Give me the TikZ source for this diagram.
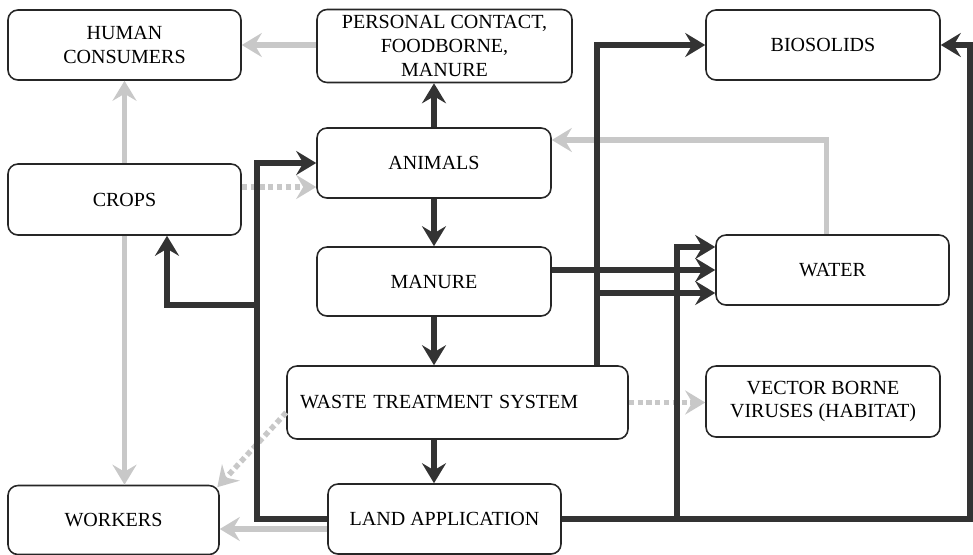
\documentclass[tikz,border=0pt]{standalone}
\usepackage{fontspec}
\setmainfont{Liberation Serif}
\usepackage{xcolor}
\usetikzlibrary{arrows.meta}
\usetikzlibrary{positioning}
\definecolor{darkline}{HTML}{333333}
\definecolor{liteline}{HTML}{C8C8C8}
\tikzset{
  MyBox/.style={
    rectangle, rounded corners=2mm,
    line width=0.9pt, draw=black!85, fill=white,
    minimum width=4.66cm, minimum height=1.4cm,
    align=center, font=\fontsize{11.4}{13.6}\selectfont,
  },
  MyDark/.style={
    -{Stealth[length=4mm,width=4.8mm,inset=1.4mm]},
    line width=3.1pt, draw=darkline,
  },
  MyLite/.style={
    -{Stealth[length=4mm,width=4.8mm,inset=1.4mm]},
    line width=3.1pt, draw=liteline,
  },
  MyDot/.style={MyLite, dash pattern=on 3pt off 2pt},
}
\begin{document}
\begin{tikzpicture}
\useasboundingbox (0,0) rectangle (19.46cm,-11.08cm);
\node[MyBox] (HUM) at (2.49cm,-0.90cm) {HUMAN\\CONSUMERS};
\node[MyBox, minimum width=5.1cm, minimum height=1.44cm] (PC) at (8.89cm,-0.92cm) {PERSONAL CONTACT,\\FOODBORNE,\\MANURE};
\node[MyBox, minimum width=4.68cm] (BIO) at (16.46cm,-0.90cm) {BIOSOLIDS};
\node[MyBox, minimum height=1.42cm] (CROPS) at (2.49cm,-3.99cm) {CROPS};
\node[MyBox, minimum width=4.68cm] (ANI) at (8.68cm,-3.26cm) {ANIMALS};
\node[MyBox, minimum width=4.68cm, minimum height=1.38cm] (MAN) at (8.68cm,-5.63cm) {MANURE};
\node[MyBox] (WAT) at (16.65cm,-5.40cm) {WATER};
\node[MyBox, text width=6.3cm, align=left, inner xsep=0.26cm, minimum height=1.46cm] (WTS) at (9.15cm,-8.05cm) {WASTE\ TREATMENT\ SYSTEM};
\node[MyBox, minimum width=4.68cm, minimum height=1.42cm] (VEC) at (16.46cm,-8.03cm) {VECTOR BORNE\\VIRUSES\ (HABITAT)};
\node[MyBox, minimum width=4.22cm, minimum height=1.38cm] (WOR) at (2.27cm,-10.40cm) {WORKERS};
\node[MyBox] (LAND) at (8.89cm,-10.38cm) {LAND APPLICATION};
% light grey links
\draw[MyLite] (PC.west |- HUM.east) -- (HUM.east);
\draw[MyLite] (CROPS.north) -- (HUM.south);
\draw[MyLite] (CROPS.south) -- (CROPS.south |- WOR.north);
\coordinate[yshift=0.46cm] (AE) at (ANI.east);
\draw[MyLite] ([xshift=-0.12cm]WAT.north) |- (AE);
\coordinate[yshift=-0.2cm] (LW) at (LAND.west);
\draw[MyLite] (LW) -- (LW -| WOR.east);
\coordinate[yshift=0.25cm] (CE) at (CROPS.east);
\draw[MyDot] (CE) -- (CE -| ANI.west);
\coordinate[yshift=-0.2cm] (WW) at (WTS.west);
\draw[MyDot] (WW) -- ([xshift=-0.05cm,yshift=-0.05cm]WOR.north east);
\draw[MyDot] (WTS.east) -- (WTS.east -| VEC.west);
% dark links
\draw[MyDark] (ANI.north) -- (ANI.north |- PC.south);
\draw[MyDark] (ANI.south) -- (MAN.north);
\draw[MyDark] (MAN.south) -- (MAN.south |- WTS.north);
\draw[MyDark] (MAN.south |- WTS.south) -- (MAN.south |- LAND.north);
\draw[MyDark] (WAT.west -| MAN.east) -- (WAT.west);
\coordinate (UP) at (11.94cm,0);
\coordinate[yshift=-0.46cm] (WL) at (WAT.west);
\coordinate[yshift=0.46cm] (WH) at (WAT.west);
\draw[MyDark] (UP |- WTS.north) |- (BIO.west);
\draw[MyDark] (UP |- WL) -- (WL);
\coordinate (LB) at (5.14cm,-6.10cm);
\draw[MyDark] (LAND.west) -| (LB) |- (ANI.west);
\draw[MyDark] (LB) -| ([xshift=0.85cm]CROPS.south);
\coordinate (RE) at (19.40cm,0);
\coordinate (RM) at (13.54cm,0);
\draw[MyDark] (LAND.east) -| (RE |- BIO.east) -- (BIO.east);
\draw[MyDark] (RM |- LAND.east) |- (WH);
\end{tikzpicture}
\end{document}
